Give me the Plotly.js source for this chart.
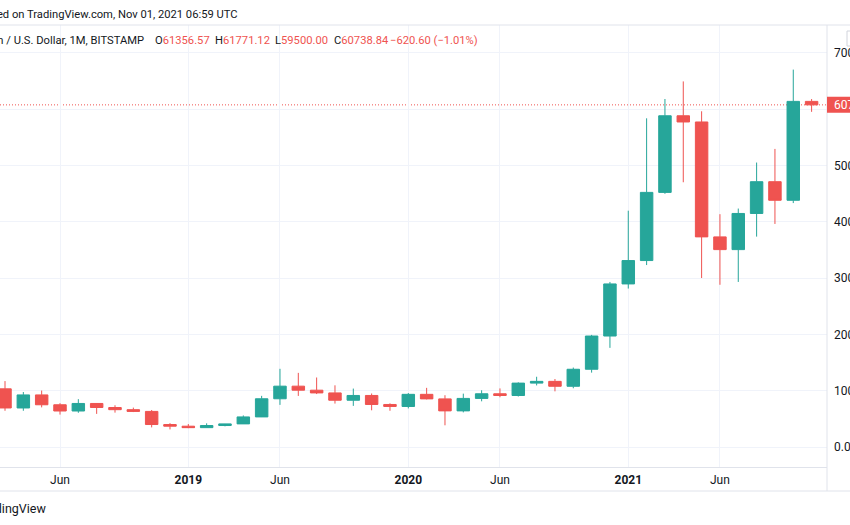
<!DOCTYPE html>
<html>
<head>
<meta charset="utf-8">
<script src="https://cdn.plot.ly/plotly-3.0.1.min.js"></script>
<style>
  html, body { margin: 0; padding: 0; background: #ffffff; overflow: hidden; }
  #chart { width: 850px; height: 525px; }
</style>
</head>
<body>
<div id="chart"></div>
<script>
// ---- data (BTC/USD monthly, BITSTAMP) ----
const months = ["2018-03","2018-04","2018-05","2018-06","2018-07","2018-08","2018-09","2018-10","2018-11","2018-12",
  "2019-01","2019-02","2019-03","2019-04","2019-05","2019-06","2019-07","2019-08","2019-09","2019-10","2019-11","2019-12",
  "2020-01","2020-02","2020-03","2020-04","2020-05","2020-06","2020-07","2020-08","2020-09","2020-10","2020-11","2020-12",
  "2021-01","2021-02","2021-03","2021-04","2021-05","2021-06","2021-07","2021-08","2021-09","2021-10","2021-11"];
const opens  = [10326, 6926, 9245, 7494, 6391, 7729, 7011, 6625, 6317, 3990,
  3693, 3434, 3812, 4103, 5340, 8560, 10800, 10085, 9600, 8300, 9150, 7550,
  7195, 9350, 8540, 6410, 8625, 9450, 9140, 11340, 11650, 10780, 13800, 19700,
  28950, 33100, 45200, 58800, 57700, 37300, 35040, 41460, 47100, 43800, 61356.57];
const highs  = [11700, 9759, 10020, 7780, 8491, 7750, 7410, 6990, 6570, 4237,
  4074, 4200, 4100, 5600, 9080, 13880, 13160, 12340, 10950, 10370, 9500, 7750,
  9580, 10500, 9190, 9470, 10070, 10400, 11480, 12470, 12070, 14100, 19900, 29300,
  41950, 58350, 61780, 64900, 59600, 41330, 42330, 50500, 52920, 67000, 61771.12];
const lows   = [6430, 6430, 7034, 5755, 6072, 5880, 6100, 6200, 3480, 3122,
  3350, 3390, 3670, 4100, 5320, 7480, 9070, 9400, 7710, 7300, 6515, 6430,
  6850, 8450, 3850, 6150, 8110, 8830, 8960, 10930, 9880, 10430, 13200, 17600,
  28130, 32300, 44950, 47000, 30000, 28800, 29300, 37350, 39600, 43300, 59500.00];
const closes = [6926, 9245, 7494, 6391, 7729, 7011, 6625, 6317, 3990, 3693,
  3434, 3812, 4103, 5340, 8560, 10800, 10085, 9600, 8300, 9150, 7550, 7195,
  9350, 8540, 6410, 8625, 9450, 9140, 11340, 11650, 10780, 13800, 19700, 28950,
  33100, 45200, 58800, 57700, 37300, 35040, 41460, 47100, 43800, 61356.57, 60738.84];

const xTickVals  = ["2018-06","2019-01","2019-06","2020-01","2020-06","2021-01","2021-06"];
const xTickText  = ["Jun","<b>2019</b>","Jun","<b>2020</b>","Jun","<b>2021</b>","Jun"];
const yTickVals  = [0, 10000, 20000, 30000, 40000, 50000, 60000, 70000];
const yTickText  = ["0.00", "10000.00", "20000.00", "30000.00", "40000.00", "50000.00", "", "70000.00"];

const headerTop  = "Published on TradingView.com, Nov 01, 2021 06:59 UTC";
const symbolText = "Bitcoin / U.S. Dollar, 1M, BITSTAMP";
const ohlcLabels = ["O", "H", "L", "C"];
const ohlcValues = ["61356.57", "61771.12", "59500.00", "60738.84"];
const changeText = "\u2212620.60 (\u22121.01%)";
const footerText = "TradingView";

// ---- style ----
const UP = "#26a69a", DOWN = "#ef5350", TXT = "#131722";
const GRID = "#f0f3fa", BORDER = "#e0e3eb";
const FONT = "Roboto, 'Liberation Sans', sans-serif";

const W = 850, H = 525;
const mL = 0, mR = 23, mT = 25, mB = 58;
const plotW = W - mL - mR, plotH = H - mT - mB;
const px2x = p => (p - mL) / plotW;
const py2y = p => (H - mB - p) / plotH;

const yRange = [-3551, 74917];
const unitPerPx = (yRange[1] - yRange[0]) / plotH;
const last = closes[closes.length - 1];

const trace = {
  type: "candlestick",
  x: months, open: opens, high: highs, low: lows, close: closes,
  increasing: { line: { color: UP, width: 1 }, fillcolor: UP },
  decreasing: { line: { color: DOWN, width: 1 }, fillcolor: DOWN },
  whiskerwidth: 0,
  hoverinfo: "none",
  showlegend: false
};

const HF = 11.2;
const ann = [];
ann.push({ xref: "paper", yref: "paper", x: px2x(240), y: py2y(14), xanchor: "right", yanchor: "middle",
  text: headerTop, showarrow: false, font: { family: FONT, size: HF, color: TXT } });
ann.push({ xref: "paper", yref: "paper", x: px2x(146), y: py2y(40), xanchor: "right", yanchor: "middle",
  text: symbolText, showarrow: false, font: { family: FONT, size: HF, color: TXT } });
const ohlcX = [153, 213, 273, 332];
ohlcLabels.forEach((l, i) => {
  ann.push({ xref: "paper", yref: "paper", x: px2x(ohlcX[i]), y: py2y(40), xanchor: "left", yanchor: "middle",
    text: l + "<span style='color:" + DOWN + "'>" + ohlcValues[i] + "</span>", showarrow: false,
    font: { family: FONT, size: HF, color: TXT } });
});
ann.push({ xref: "paper", yref: "paper", x: px2x(388), y: py2y(40), xanchor: "left", yanchor: "middle",
  text: changeText, showarrow: false, font: { family: FONT, size: HF, color: DOWN } });
ann.push({ xref: "paper", yref: "paper", x: px2x(48), y: py2y(508), xanchor: "right", yanchor: "middle",
  text: footerText, showarrow: false, font: { family: FONT, size: 12.5, color: TXT } });
ann.push({ xref: "paper", yref: "y", x: px2x(832), y: last, xanchor: "left", yanchor: "middle",
  text: last.toFixed(2), showarrow: false, font: { family: FONT, size: 12, color: "#ffffff" } });

const shapes = [
  { type: "line", xref: "paper", yref: "paper", x0: 0, x1: px2x(870), y0: 1, y1: 1, line: { color: BORDER, width: 1 }, layer: "above" },
  { type: "line", xref: "paper", yref: "paper", x0: 1, x1: 1, y0: 1, y1: py2y(491), line: { color: BORDER, width: 1 }, layer: "above" },
  { type: "line", xref: "paper", yref: "paper", x0: 0, x1: px2x(870), y0: py2y(491), y1: py2y(491), line: { color: BORDER, width: 1 }, layer: "above" },
  { type: "line", xref: "paper", yref: "y", x0: 0, x1: 1, y0: last, y1: last, line: { color: DOWN, width: 1, dash: "1px,2px" }, layer: "below" },
  { type: "rect", xref: "paper", yref: "y", x0: 1, x1: px2x(870), y0: last - 8 * unitPerPx, y1: last + 8 * unitPerPx,
    fillcolor: DOWN, line: { width: 0 }, layer: "above" },
  { type: "rect", xref: "paper", yref: "paper", x0: px2x(847), x1: px2x(870), y0: py2y(46), y1: py2y(31),
    fillcolor: "#ffffff", line: { color: "#d1d4dc", width: 1 }, layer: "above" }
];

const layout = {
  width: W, height: H,
  margin: { l: mL, r: mR, t: mT, b: mB, pad: 0 },
  paper_bgcolor: "#ffffff", plot_bgcolor: "#ffffff",
  font: { family: FONT, color: TXT, size: 12 },
  showlegend: false,
  boxgap: 0.32, boxgroupgap: 0,
  dragmode: false,
  xaxis: {
    type: "category", range: [-0.273, 44.84], autorange: false,
    tickvals: xTickVals, ticktext: xTickText,
    showgrid: true, gridcolor: GRID, gridwidth: 1,
    showline: true, linecolor: BORDER, linewidth: 1,
    ticks: "", ticklabelstandoff: 2,
    tickfont: { family: FONT, size: 12, color: TXT },
    rangeslider: { visible: false }, fixedrange: true, zeroline: false
  },
  yaxis: {
    side: "right", range: yRange, autorange: false,
    tickvals: yTickVals, ticktext: yTickText,
    showgrid: true, gridcolor: GRID, gridwidth: 1,
    zeroline: false, showline: false, ticks: "", ticklabelstandoff: 6,
    tickfont: { family: FONT, size: 12, color: TXT },
    fixedrange: true
  },
  annotations: ann,
  shapes: shapes
};

Plotly.newPlot("chart", [trace], layout, { staticPlot: true, displayModeBar: false });
</script>
</body>
</html>
